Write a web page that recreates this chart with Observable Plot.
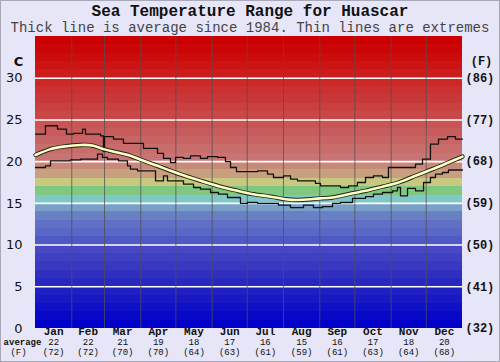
<!DOCTYPE html>
<html><head><meta charset="utf-8">
<script src="https://cdn.jsdelivr.net/npm/d3@7"></script>
<script src="https://cdn.jsdelivr.net/npm/@observablehq/plot@0.6"></script>
<style>
html,body{margin:0;padding:0;}
body{width:500px;height:362px;background:#e6e6f8;position:relative;overflow:hidden;}
#frame{position:absolute;left:0;top:0;width:498px;height:360px;border:1px solid #a8a8b8;pointer-events:none;}
#title{position:absolute;left:0;top:4px;width:500px;text-align:center;font:bold 16px "Liberation Mono",monospace;color:#111;line-height:16px;}
#sub{position:absolute;left:0;top:22px;width:500px;text-align:center;font:14px "Liberation Mono",monospace;color:#444;line-height:13px;}
#chart{position:absolute;left:0;top:36px;}
</style></head><body>
<div id="title">Sea Temperature Range for Huascar</div>
<div id="sub">Thick line is average since 1984. Thin lines are extremes</div>
<div id="chart"></div>
<div id="frame"></div>
<script>
const months = ["Jan","Feb","Mar","Apr","May","Jun","Jul","Aug","Sep","Oct","Nov","Dec"];
const monthAvgC = ["22","22","21","19","18","17","16","15","16","17","18","20"];
const monthAvgF = ["(72)","(72)","(70)","(70)","(64)","(63)","(61)","(59)","(61)","(63)","(64)","(68)"];
const monthStarts = [0,31,59,90,120,151,181,212,243,273,304,334,365];
const cTicks = [0,5,10,15,20,25,30];
const fTickLabels = ["(32)","(41)","(50)","(59)","(68)","(77)","(86)"];

// daily extremes (step lines), day of year -> °C
const maxDay  = [0,8.5,18.8,26.5,32.5,40.2,42.7,55.6,58.1,59,66.7,75.2,92.3,104.3,109.4,115.4,119.7,126.5,132.5,141,147,155.6,162.4,166.7,171.8,189.8,198.3,203.4,212,218,224,239.3,243.6,260.7,267.6,275.2,282.1,288.9,296.6,301.7,324.8,330.8,337.6,344.5,352.2,359,365];
const maxTemp = [23.3,24.3,23.9,23.3,23.4,23.9,23.3,23.1,21.2,23.0,22.7,22.2,21.6,21.0,20.4,19.9,20.5,20.4,20.7,20.4,20.6,20.5,20.0,19.3,18.8,18.9,18.5,18.1,18.3,17.9,17.7,17.4,17.1,16.9,17.1,17.5,18.1,18.3,18.1,19.3,19.7,20.3,22.1,22.7,23.0,22.7,22.7];
const minDay  = [0,8.5,12.8,29.9,38.5,53,57.3,61.5,70.9,78.6,81.2,87.2,102.6,109.4,112.8,126.5,135.1,141,149.6,156.4,164.1,175.2,181.2,189.8,207.7,218,229.1,237.6,245.3,253.9,260.7,271,282.1,288.9,296.6,305.2,309.4,312,318,324.8,331.7,337.6,341.9,347.9,353,365];
const minTemp = [19.3,19.5,20.1,20.2,20.3,20.9,20.5,20.3,20.1,19.5,19.1,18.9,17.7,18.3,17.7,17.3,16.9,16.7,16.3,16.1,15.7,15.0,15.1,15.0,14.8,14.5,14.8,14.5,14.6,15.0,15.1,15.6,15.8,16.1,16.3,16.5,16.9,15.9,16.8,16.5,17.5,18.1,18.5,18.7,19.0,19.0];
// average since 1984
const avgDay  = [0,12.8,23.9,38.5,49.6,58.1,70.1,81.2,92.3,104.3,115.4,130,143.6,158,172.7,186,200.9,213.7,224,235,243.6,253.9,267.6,282.1,296.6,310.3,324.8,339.4,353,365];
const avgTemp = [20.8,21.5,21.8,22.0,21.9,21.5,21.1,20.7,20.1,19.5,18.9,18.2,17.6,17.0,16.5,16.1,15.8,15.5,15.4,15.5,15.6,15.7,16.1,16.5,17.0,17.5,18.3,19.1,19.9,20.6];

const bandColors = ["#0000c8","#0808c8","#1010c6","#1818c4","#2020c2","#2828c0","#3030c0","#3838c0","#4040c2","#4848c4","#5058c4","#5868c4","#6070c4","#6a80c4","#78a0c8","#80c8c8","#80c880","#c8c880","#c8a080","#c88a78","#c87474","#c86c6c","#c86464","#c85c5c","#c85454","#c84848","#c84040","#c83838","#cc3030","#cc2828","#cc1c1c","#cc1414","#cc0c0c","#cc0606","#cc0000"];
const bands = bandColors.map((c,i)=>i);

const mid = months.map((m,i)=>(monthStarts[i]+monthStarts[i+1])/2);
const monoFont = "Liberation Mono, Courier New, monospace";

const chart = Plot.plot({
  width: 500, height: 326,
  marginTop: 0, marginBottom: 34, marginLeft: 35, marginRight: 38,
  x: {domain: [0,365], axis: null},
  y: {domain: [0,35], axis: null},
  color: {type: "identity"},
  style: {background: "transparent", overflow: "visible"},
  marks: [
    Plot.rect(bands, {x1: 0, x2: 365, y1: d=>d, y2: d=>d+1, fill: (d,i)=>bandColors[i], shapeRendering: "crispEdges"}),
    Plot.ruleY(cTicks.filter(d=>d>0), {stroke: "white", strokeWidth: 1.6}),
    Plot.ruleX(monthStarts.slice(1,-1), {stroke: "#505050", strokeWidth: 1, strokeOpacity: 0.75}),
    Plot.line(maxDay, {x: d=>d, y: (d,i)=>maxTemp[i], curve: "step-after", stroke: "#111", strokeWidth: 1.3}),
    Plot.line(minDay, {x: d=>d, y: (d,i)=>minTemp[i], curve: "step-after", stroke: "#111", strokeWidth: 1.3}),
    Plot.line(avgDay, {x: d=>d, y: (d,i)=>avgTemp[i], curve: "natural", stroke: "#222", strokeWidth: 4.4}),
    Plot.line(avgDay, {x: d=>d, y: (d,i)=>avgTemp[i], curve: "natural", stroke: "#ffffc0", strokeWidth: 2.6}),
    // left axis °C
    Plot.text(cTicks, {y: d=>d, frameAnchor: "left", dx: -13, textAnchor: "end", text: d=>String(d), fontSize: 13, fontFamily: "DejaVu Sans, sans-serif", fill: "#111"}),
    Plot.text(["C"], {y: 32, frameAnchor: "left", dx: -17, textAnchor: "middle", fontSize: 13, fontWeight: "bold", fontFamily: "DejaVu Sans, sans-serif", fill: "#111"}),
    // right axis °F
    Plot.text(cTicks, {y: d=>d, frameAnchor: "right", dx: 3, textAnchor: "start", text: (d,i)=>fTickLabels[i], fontSize: 12, fontWeight: "bold", fontFamily: monoFont, fill: "#111"}),
    Plot.text(["(F)"], {y: 32, frameAnchor: "right", dx: 19, textAnchor: "middle", fontSize: 12, fontWeight: "bold", fontFamily: monoFont, fill: "#111"}),
    // month labels below
    Plot.text(months, {x: (d,i)=>mid[i], frameAnchor: "bottom", dy: 6, text: d=>d, fontSize: 11, fontWeight: "bold", fontFamily: monoFont, fill: "#111"}),
    Plot.text(monthAvgC, {x: (d,i)=>mid[i], frameAnchor: "bottom", dy: 16, text: d=>d, fontSize: 9, fontFamily: monoFont, fill: "#111"}),
    Plot.text(monthAvgF, {x: (d,i)=>mid[i], frameAnchor: "bottom", dy: 26, text: d=>d, fontSize: 9, fontFamily: monoFont, fill: "#111"}),
    Plot.text(["average"], {frameAnchor: "bottom-left", dx: -13, dy: 16, textAnchor: "middle", fontSize: 9, fontWeight: "bold", fontFamily: monoFont, fill: "#111"}),
    Plot.text(["(F)"], {frameAnchor: "bottom-left", dx: -17, dy: 26, textAnchor: "middle", fontSize: 9, fontFamily: monoFont, fill: "#111"})
  ]
});
document.getElementById("chart").appendChild(chart);
</script></body></html>
